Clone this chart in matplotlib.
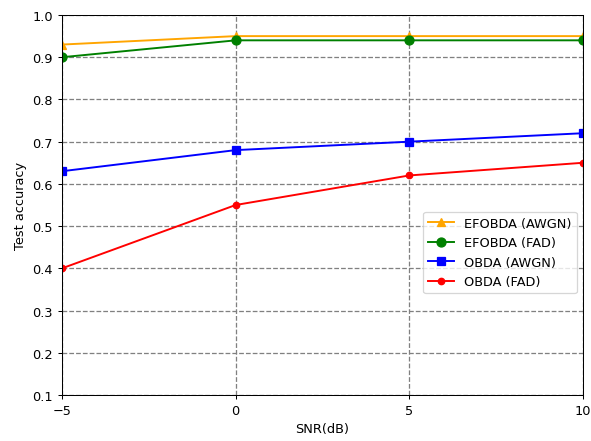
import matplotlib
matplotlib.use("Agg")
import matplotlib.pyplot as plt

snr = [-5, 0, 5, 10]
efobda_awgn = [0.93, 0.95, 0.95, 0.95]
efobda_fad = [0.90, 0.94, 0.94, 0.94]
obda_awgn = [0.63, 0.68, 0.70, 0.72]
obda_fad = [0.40, 0.55, 0.62, 0.65]

dpi = 92.3
fig = plt.figure(figsize=(591 / dpi, 442 / dpi), dpi=dpi)
ax = fig.add_axes([62 / 591, 1 - 396 / 442, (583 - 62) / 591, (396 - 16) / 442])

ax.plot(snr, efobda_awgn, color="orange", marker="^", markersize=6, linewidth=1.5, label="EFOBDA (AWGN)")
ax.plot(snr, efobda_fad, color="green", marker="o", markersize=7, linewidth=1.5, label="EFOBDA (FAD)")
ax.plot(snr, obda_awgn, color="blue", marker="s", markersize=6, linewidth=1.5, label="OBDA (AWGN)")
ax.plot(snr, obda_fad, color="red", marker="o", markersize=5, linewidth=1.5, label="OBDA (FAD)")

ax.set_xlim(-5, 10)
ax.set_ylim(0.1, 1.0)
ax.set_xticks([-5, 0, 5, 10])
ax.set_yticks([0.1, 0.2, 0.3, 0.4, 0.5, 0.6, 0.7, 0.8, 0.9, 1.0])
ax.grid(True, linestyle="--", color="gray", linewidth=1.0)
ax.set_xlabel("SNR(dB)")
ax.set_ylabel("Test accuracy")
ax.legend(loc="center right", bbox_to_anchor=(1.0, 0.375))

fig.savefig("out.png", dpi=dpi)
